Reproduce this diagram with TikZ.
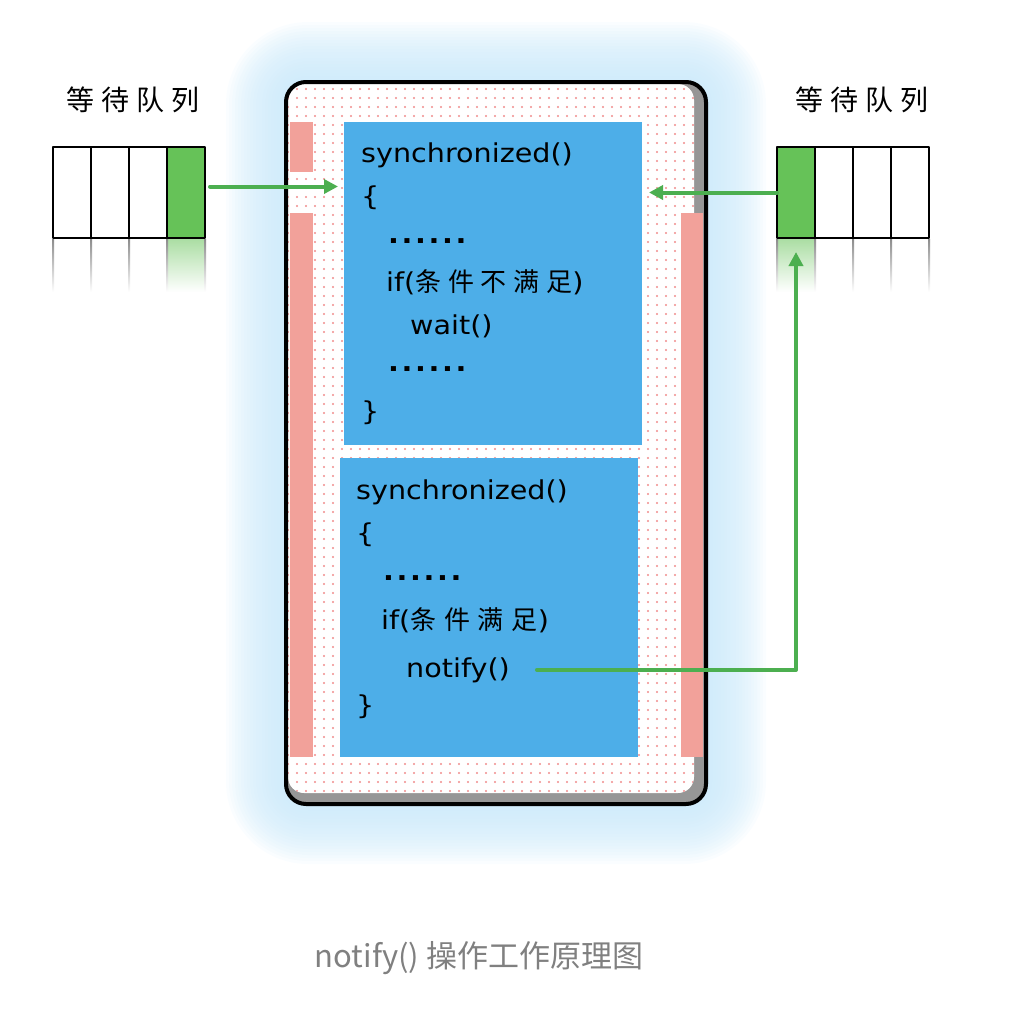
\documentclass[tikz,border=0pt]{standalone}
\usepackage{fontspec}
\setmainfont{Noto Sans CJK SC}
\newfontfamily\cjk{Noto Sans CJK SC}
\newfontfamily\codefont{DejaVu Sans}[FakeStretch=1.1]
\usetikzlibrary{positioning}
\usetikzlibrary{arrows.meta}
\usetikzlibrary{patterns.meta}

\definecolor{glowblue}{RGB}{200,232,250}
\definecolor{codeblue}{RGB}{77,174,232}
\definecolor{barpink}{RGB}{242,161,154}
\definecolor{dotpink}{RGB}{240,140,140}
\definecolor{cellgreen}{RGB}{102,194,88}
\definecolor{flowgreen}{RGB}{76,175,80}
\definecolor{bevelgray}{RGB}{150,150,150}
\definecolor{captiongray}{RGB}{128,128,128}

\newcommand{\zh}[2]{{\cjk\addfontfeature{LetterSpace=#1}#2}}
\newcommand{\etc}{{\bfseries\addfontfeature{LetterSpace=10}......}}

\tikzset{
  cell/.style={draw=black,line width=2pt,fill=white,minimum width=38pt,minimum height=91pt,inner sep=0pt,outer sep=0pt},
  codebox/.style={fill=codeblue,inner sep=0pt,outer sep=0pt,anchor=north west},
  codeline/.style={anchor=base west,inner sep=0pt,font=\codefont\fontsize{26}{30}\selectfont},
  flow/.style={draw=flowgreen,line width=4pt,-{Triangle[length=14pt,width=14pt]}},
  queuetitle/.style={font=\fontsize{28}{32}\selectfont\addfontfeature{LetterSpace=24}},
}

\begin{document}
\begin{tikzpicture}[x=1pt,y=-1pt,line cap=round,line join=round]
\useasboundingbox (0,0) rectangle (1020,1034);
% glow round the block
\foreach \g [evaluate=\g as \r using 22+3*\g] in {1,...,20}
  \fill[glowblue,opacity=0.085,rounded corners=\r pt] ({286-3*\g},{82-3*\g}) rectangle ({706+3*\g},{804+3*\g});
% block
\fill[bevelgray,rounded corners=20pt] (286,82) rectangle (706,804);
\fill[white,rounded corners=16pt] (288,84) rectangle (694,793);
\fill[pattern={Dots[distance=9pt,radius=1.2pt]},pattern color=dotpink,rounded corners=16pt] (288,84) rectangle (694,793);
\fill[barpink] (290,122) rectangle (313,172);
\fill[barpink] (290,213) rectangle (313,757);
\fill[barpink] (681,213) rectangle (703,757);
\draw[black,line width=4pt,rounded corners=20pt] (286,82) rectangle (706,804);
\node[codebox,minimum width=298pt,minimum height=323pt] (waitbox) at (344,122) {};
\node[codebox,minimum width=298pt,minimum height=299pt] (notifybox) at (340,458) {};
% first synchronized block
\node[codeline] (w1) at (361,162) {synchronized()};
\node[codeline] (w2) at (361,205) {\{};
\node[codeline] (w3) at (388,243) {\etc};
\node[codeline] (w4) at (386,291) {if(\zh{26}{条件不满足})};
\node[codeline] (w5) at (410,334) {wait()};
\node[codeline] (w6) at (388,371) {\etc};
\node[codeline] (w7) at (361,420) {\}};
% second synchronized block
\node[codeline] (n1) at (356,499) {synchronized()};
\node[codeline] (n2) at (356,542) {\{};
\node[codeline] (n3) at (383,580) {\etc};
\node[codeline] (n4) at (381,629) {if(\zh{30}{条件满足})};
\node[codeline] (notify) at (406,677) {notify()};
\node[codeline] (n6) at (356,714) {\}};
% waiting queues
\node[queuetitle] (ltitle) at (133,100) {等待队列};
\node[queuetitle] (rtitle) at (862,100) {等待队列};
\node[cell] (lq1) at (72,192.5) {};
\node[cell,right=0pt of lq1] (lq2) {};
\node[cell,right=0pt of lq2] (lq3) {};
\node[cell,right=0pt of lq3,fill=cellgreen] (lq4) {};
\node[cell,fill=cellgreen] (rq1) at (796,192.5) {};
\node[cell,right=0pt of rq1] (rq2) {};
\node[cell,right=0pt of rq2] (rq3) {};
\node[cell,right=0pt of rq3] (rq4) {};
% reflections
\shade[top color=cellgreen!55,bottom color=white] (168,239) rectangle (204,292);
\shade[top color=cellgreen!55,bottom color=white] (778,239) rectangle (814,292);
\foreach \x in {53,91,129,167,205,777,815,853,891,929}
  \shade[top color=black!45,bottom color=white] ({\x-1},239) rectangle ({\x+1},292);
% connectors
\coordinate (lqout) at ([yshift=6pt]lq4.east);
\draw[flow,shorten <=5pt,shorten >=6pt] (lqout) -- (waitbox.west |- lqout);
\draw[flow,shorten >=7pt] (rq1.west) -- (waitbox.east |- rq1.west);
\draw[flow,shorten <=27pt,shorten >=14pt] (notify.east) -| (rq1.south);
% caption
\node[font=\fontsize{31}{35}\selectfont,text=captiongray] (caption) at (479,958) {notify() 操作工作原理图};
\end{tikzpicture}
\end{document}
